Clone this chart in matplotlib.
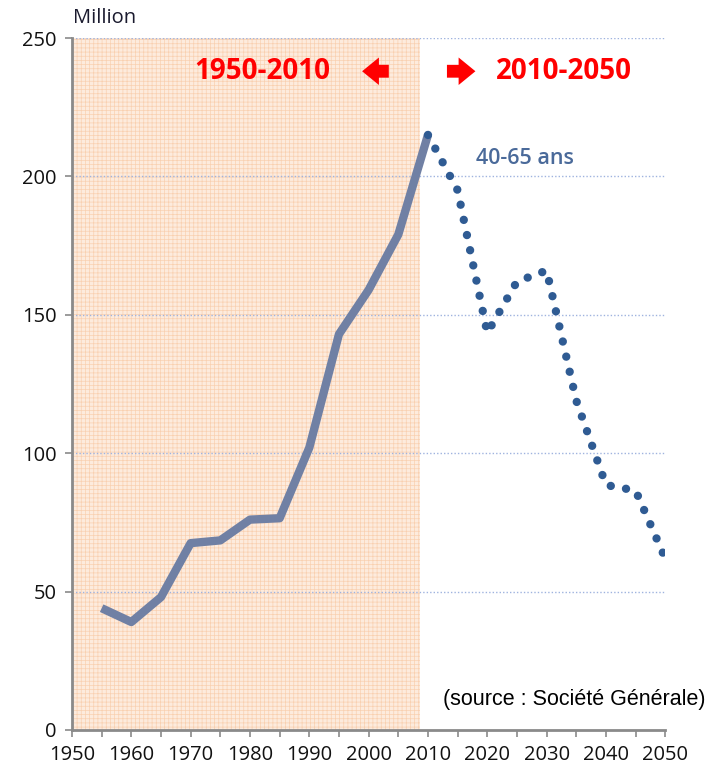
import matplotlib.pyplot as plt

# data (millions, age 40-65)
years_hist = [1955, 1960, 1965, 1970, 1975, 1980, 1985, 1990, 1995, 2000, 2005, 2010]
pop_hist = [44, 39, 48, 67.5, 68.5, 76, 76.5, 102, 143, 159, 179, 215]
years_proj = [2010, 2015, 2020, 2025, 2030, 2035, 2040, 2045, 2050]
pop_proj = [215, 195, 143.5, 162, 166, 119, 88.5, 86.5, 62]
y_ticks = [0, 50, 100, 150, 200, 250]
x_ticks = list(range(1950, 2051, 10))

plt.rcParams['font.family'] = ['Open Sans', 'DejaVu Sans']
plt.rcParams['hatch.linewidth'] = 0.5

fig = plt.figure(figsize=(7.1, 7.7), dpi=100)
ax = fig.add_axes([0.1014, 0.052, 0.8356, 0.8986])

# shaded past period
ax.axvspan(1950, 2008.7, facecolor='#fdebdd', edgecolor='#f9d0b0', hatch='++++', lw=0, zorder=0)

# gridlines
for v in y_ticks[1:]:
    ax.axhline(v, color='#9fb3df', lw=1, ls=(0, (1, 1.5)), zorder=1)

ax.plot(years_hist, pop_hist, color='#7080a4', lw=6, solid_capstyle='butt', zorder=3)
ax.plot(years_proj, pop_proj, color='#2f5b93', lw=6, ls=(0, (0.01, 1.85)),
        dash_capstyle='round', zorder=3)

ax.set_xlim(1950, 2050)
ax.set_ylim(0, 250)
ax.set_xticks(x_ticks)
ax.set_xticks(range(1955, 2050, 10), minor=True)
ax.set_yticks(y_ticks)
ax.tick_params(axis='both', labelsize=14.5, colors='#8a8a8a', labelcolor='#111111', length=5, width=1.2)
ax.tick_params(axis='x', which='minor', colors='#8a8a8a', length=5, width=1.2)
ax.tick_params(axis='x', pad=6)
ax.tick_params(axis='y', pad=6)
for s in ['top', 'right']:
    ax.spines[s].set_visible(False)
for s in ['left', 'bottom']:
    ax.spines[s].set_color('#8a8a8a')
    ax.spines[s].set_linewidth(2)

fig.text(0.103, 0.976, 'Million', fontsize=14.5, color='#1a1a2e', va='center', ha='left')

ax.text(1982, 238, '1950-2010', color='#ff0000', fontsize=20, fontweight='bold', ha='center', va='center')
ax.text(2033, 238, '2010-2050', color='#ff0000', fontsize=20, fontweight='bold', ha='center', va='center')
arrow = dict(arrowstyle='simple,head_width=0.9,head_length=0.55,tail_width=0.42',
             color='#ff0000', lw=0, mutation_scale=22, shrinkA=0, shrinkB=0)
ax.annotate('', xy=(1998.9, 238), xytext=(2003.4, 238), arrowprops=arrow)
ax.annotate('', xy=(2018.0, 238), xytext=(2013.2, 238), arrowprops=arrow)

ax.text(2026.3, 206.5, '40-65 ans', color='#4a6a9a', fontsize=15.5, fontweight='semibold', ha='center', va='center')
ax.text(2056.8, 11, '(source : Société Générale)', color='black', fontsize=15.5,
        family='Liberation Sans', ha='right', va='center')

fig.savefig('out.png', dpi=100)
